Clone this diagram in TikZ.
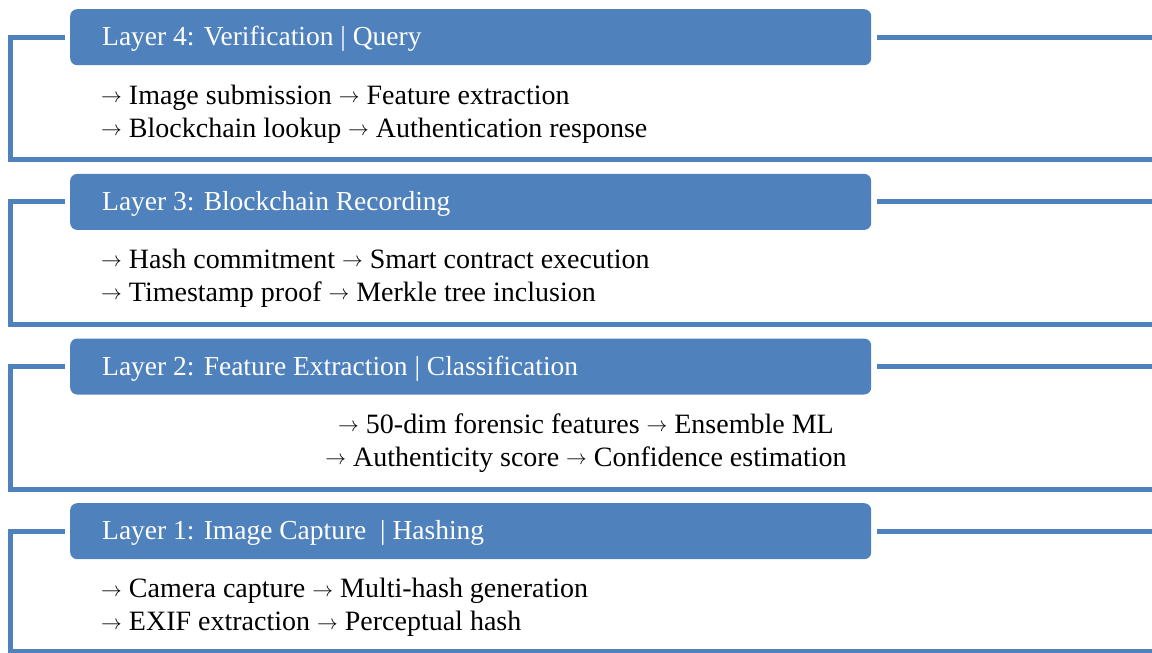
\documentclass[tikz,border=0pt]{standalone}
\usepackage{fontspec}
\setmainfont{Liberation Serif}
\definecolor{hdr}{HTML}{4F81BD}
\newcommand{\arr}{\raisebox{1.5pt}{\fontsize{22}{22}\selectfont$\rightarrow$}}
\tikzset{
  hdrbox/.style={fill=hdr, rounded corners=7pt, minimum width=801pt, minimum height=56pt, anchor=north west, inner sep=0pt, draw=none},
  hdrtext/.style={text=white, font=\fontsize{27.5}{30}\selectfont, anchor=west, inner sep=0pt},
  bodytext/.style={font=\fontsize{28}{33}\selectfont, align=left, anchor=west, inner sep=0pt},
  bodyc/.style={font=\fontsize{28}{33}\selectfont, align=center, anchor=center, inner sep=0pt},
  frame/.style={draw=hdr, line width=5pt, line join=miter},
}
\begin{document}
\begin{tikzpicture}[x=1pt,y=-1pt]
\useasboundingbox (0,0) rectangle (1152,653);
% Layer 4
\draw[frame] (65,37) -- (10,37) -- (10,159.5) -- (1160,159.5);
\draw[frame] (877,37) -- (1160,37);
\node[hdrbox] (h4) at (70,9) {};
\node[hdrtext] (t4) at (102,39) {Layer 4: Verification | Query};
\node[bodytext] (b4) at (101,114) {\arr\ Image submission \arr\ Feature extraction\\\arr\ Blockchain lookup \arr\ Authentication response};
% Layer 3
\draw[frame] (65,201.7) -- (10,201.7) -- (10,324) -- (1160,324);
\draw[frame] (877,201.7) -- (1160,201.7);
\node[hdrbox] (h3) at (70,173.7) {};
\node[hdrtext] (t3) at (102,203.7) {Layer 3: Blockchain Recording};
\node[bodytext] (b3) at (101,278) {\arr\ Hash commitment \arr\ Smart contract execution\\\arr\ Timestamp proof \arr\ Merkle tree inclusion};
% Layer 2
\draw[frame] (65,366.3) -- (10,366.3) -- (10,489) -- (1160,489);
\draw[frame] (877,366.3) -- (1160,366.3);
\node[hdrbox] (h2) at (70,338.3) {};
\node[hdrtext] (t2) at (102,368.3) {Layer 2: Feature Extraction | Classification};
\node[bodyc] (b2) at (586,443) {\arr\ 50-dim forensic features \arr\ Ensemble ML\\\arr\ Authenticity score \arr\ Confidence estimation};
% Layer 1
\draw[frame] (65,531) -- (10,531) -- (10,651.5) -- (1160,651.5);
\draw[frame] (877,531) -- (1160,531);
\node[hdrbox] (h1) at (70,503) {};
\node[hdrtext] (t1) at (102,533) {Layer 1: Image Capture\ \ | Hashing};
\node[bodytext] (b1) at (101,607.5) {\arr\ Camera capture \arr\ Multi-hash generation\\\arr\ EXIF extraction \arr\ Perceptual hash};
\end{tikzpicture}
\end{document}
